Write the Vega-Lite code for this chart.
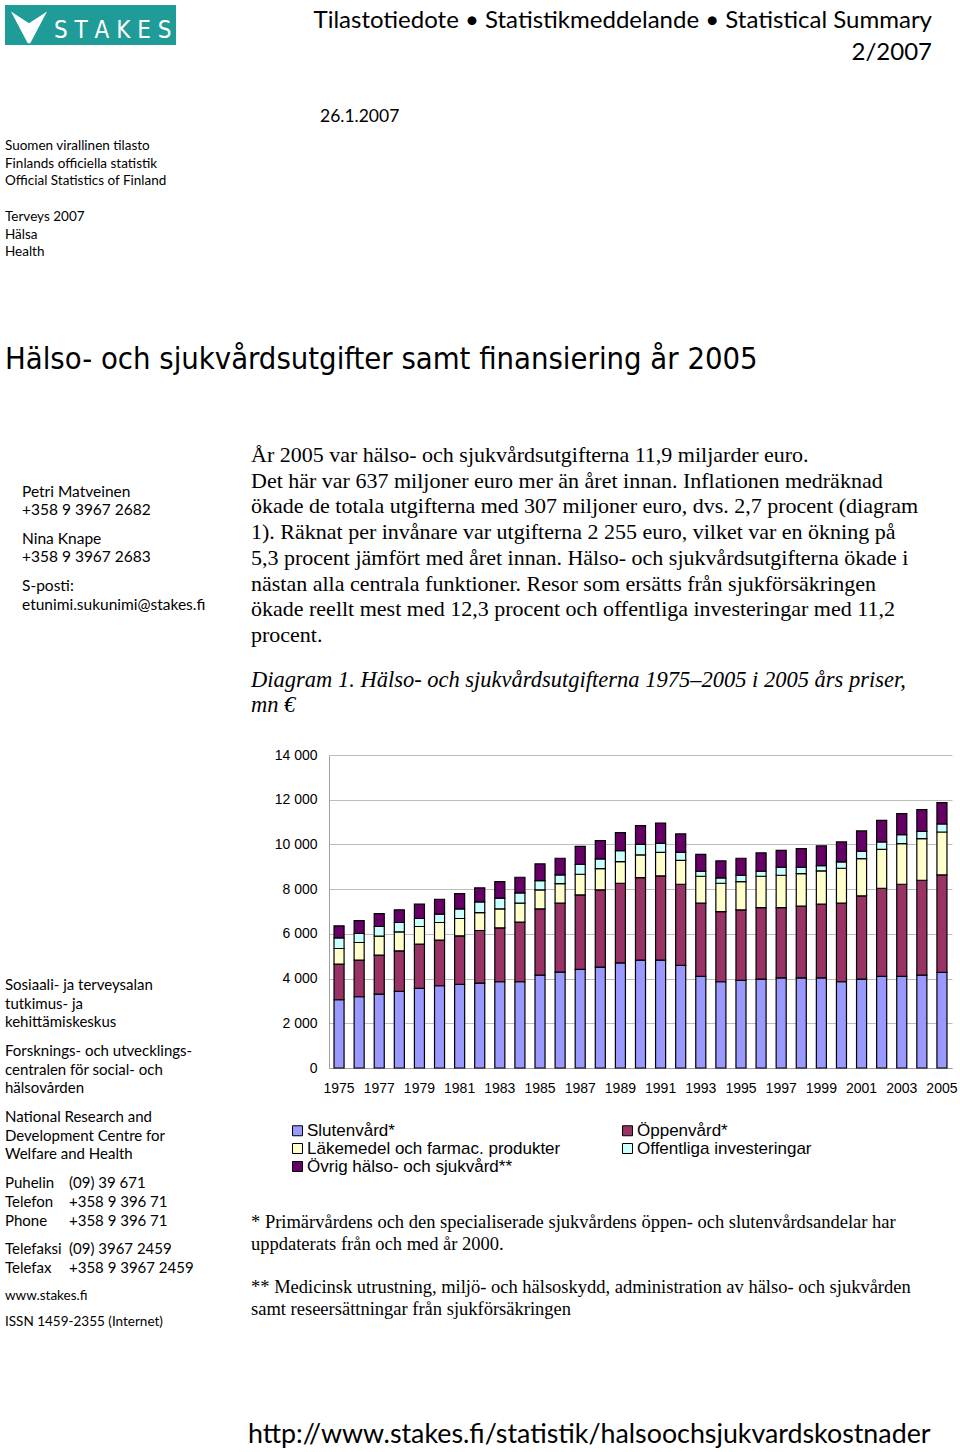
{
  "$schema": "https://vega.github.io/schema/vega-lite/v6.json",
  "width": 623,
  "height": 313,
  "autosize": {"type": "none"},
  "padding": {"left": 329, "top": 755, "right": 8, "bottom": 384},
  "background": "white",
  "config": {
    "view": {"stroke": null},
    "font": "Liberation Sans",
    "locale": {"number": {"decimal": ",", "thousands": " ", "grouping": [3], "currency": ["", " €"]}}
  },
  "datasets": {
    "utgifter": [
      {"År": 1975, "slut": 3052, "oppen": 1594, "lake": 699, "inv": 477, "ovrig": 536},
      {"År": 1976, "slut": 3186, "oppen": 1638, "lake": 790, "inv": 401, "ovrig": 581},
      {"År": 1977, "slut": 3306, "oppen": 1742, "lake": 848, "inv": 432, "ovrig": 581},
      {"År": 1978, "slut": 3425, "oppen": 1816, "lake": 849, "inv": 417, "ovrig": 566},
      {"År": 1979, "slut": 3559, "oppen": 1980, "lake": 789, "inv": 358, "ovrig": 640},
      {"År": 1980, "slut": 3678, "oppen": 2040, "lake": 789, "inv": 372, "ovrig": 670},
      {"År": 1981, "slut": 3737, "oppen": 2174, "lake": 775, "inv": 431, "ovrig": 685},
      {"År": 1982, "slut": 3797, "oppen": 2353, "lake": 804, "inv": 476, "ovrig": 625},
      {"År": 1983, "slut": 3857, "oppen": 2412, "lake": 848, "inv": 477, "ovrig": 744},
      {"År": 1984, "slut": 3857, "oppen": 2665, "lake": 849, "inv": 461, "ovrig": 700},
      {"År": 1985, "slut": 4154, "oppen": 2963, "lake": 849, "inv": 417, "ovrig": 745},
      {"År": 1986, "slut": 4288, "oppen": 3083, "lake": 878, "inv": 387, "ovrig": 745},
      {"År": 1987, "slut": 4407, "oppen": 3336, "lake": 923, "inv": 447, "ovrig": 804},
      {"År": 1988, "slut": 4512, "oppen": 3454, "lake": 953, "inv": 432, "ovrig": 819},
      {"År": 1989, "slut": 4705, "oppen": 3559, "lake": 968, "inv": 491, "ovrig": 804},
      {"År": 1990, "slut": 4824, "oppen": 3693, "lake": 1013, "inv": 476, "ovrig": 834},
      {"År": 1991, "slut": 4824, "oppen": 3768, "lake": 1057, "inv": 402, "ovrig": 908},
      {"År": 1992, "slut": 4586, "oppen": 3633, "lake": 1072, "inv": 358, "ovrig": 819},
      {"År": 1993, "slut": 4095, "oppen": 3276, "lake": 1206, "inv": 223, "ovrig": 759},
      {"År": 1994, "slut": 3857, "oppen": 3141, "lake": 1266, "inv": 238, "ovrig": 760},
      {"År": 1995, "slut": 3916, "oppen": 3157, "lake": 1265, "inv": 283, "ovrig": 760},
      {"År": 1996, "slut": 3976, "oppen": 3201, "lake": 1400, "inv": 223, "ovrig": 819},
      {"År": 1997, "slut": 4035, "oppen": 3142, "lake": 1444, "inv": 358, "ovrig": 759},
      {"År": 1998, "slut": 4035, "oppen": 3202, "lake": 1459, "inv": 283, "ovrig": 834},
      {"År": 1999, "slut": 4035, "oppen": 3291, "lake": 1489, "inv": 238, "ovrig": 879},
      {"År": 2000, "slut": 3857, "oppen": 3514, "lake": 1563, "inv": 283, "ovrig": 893},
      {"År": 2001, "slut": 3976, "oppen": 3722, "lake": 1668, "inv": 328, "ovrig": 908},
      {"År": 2002, "slut": 4095, "oppen": 3946, "lake": 1742, "inv": 327, "ovrig": 968},
      {"År": 2003, "slut": 4095, "oppen": 4124, "lake": 1817, "inv": 402, "ovrig": 938},
      {"År": 2004, "slut": 4154, "oppen": 4244, "lake": 1861, "inv": 328, "ovrig": 968},
      {"År": 2005, "slut": 4273, "oppen": 4363, "lake": 1921, "inv": 357, "ovrig": 953}
    ],
    "kategorier": [
      {"nyckel": "slut", "Kategori": "Slutenvård*", "ordning": 1},
      {"nyckel": "oppen", "Kategori": "Öppenvård*", "ordning": 2},
      {"nyckel": "lake", "Kategori": "Läkemedel och farmac. produkter", "ordning": 3},
      {"nyckel": "inv", "Kategori": "Offentliga investeringar", "ordning": 4},
      {"nyckel": "ovrig", "Kategori": "Övrig hälso- och sjukvård**", "ordning": 5}
    ],
    "tom": [{}]
  },
  "layer": [
    {
      "data": {"name": "utgifter"},
      "transform": [
        {"fold": ["slut", "oppen", "lake", "inv", "ovrig"], "as": ["nyckel", "mn"]},
        {"lookup": "nyckel", "from": {"data": {"name": "kategorier"}, "key": "nyckel", "fields": ["Kategori", "ordning"]}}
      ],
      "mark": {"type": "bar", "stroke": "black", "strokeWidth": 1.2},
      "encoding": {
        "x": {
          "field": "År", "type": "ordinal",
          "scale": {"paddingInner": 0.5, "paddingOuter": 0.25},
          "axis": {
            "title": null, "labelAngle": 0, "ticks": false, "tickSize": 0, "labelPadding": 13,
            "labelFontSize": 14, "labelFont": "Liberation Sans", "labelColor": "black",
            "labelOverlap": false, "domainColor": "#A0A0A0", "domainWidth": 1,
            "values": [1975, 1977, 1979, 1981, 1983, 1985, 1987, 1989, 1991, 1993, 1995, 1997, 1999, 2001, 2003, 2005]
          }
        },
        "y": {
          "field": "mn", "type": "quantitative", "stack": "zero",
          "scale": {"domain": [0, 14000], "nice": false},
          "axis": {
            "title": null, "values": [0, 2000, 4000, 6000, 8000, 10000, 12000, 14000],
            "format": ",d",
            "ticks": false, "tickSize": 0, "labelPadding": 12, "labelFontSize": 14,
            "labelFont": "Liberation Sans", "labelColor": "black",
            "domainColor": "#A0A0A0", "gridColor": "#BDBDBD", "gridWidth": 1
          }
        },
        "color": {
          "field": "Kategori", "type": "nominal",
          "scale": {
            "domain": ["Slutenvård*", "Öppenvård*", "Läkemedel och farmac. produkter", "Offentliga investeringar", "Övrig hälso- och sjukvård**"],
            "range": ["#9999FF", "#993366", "#FFFFCC", "#CCFFFF", "#660066"]
          },
          "legend": {
            "orient": "none", "legendX": -40, "legendY": 367, "direction": "horizontal", "columns": 2, "title": null,
            "symbolType": "square", "symbolSize": 100, "symbolStrokeColor": "black", "symbolStrokeWidth": 1,
            "symbolOpacity": 1, "labelFontSize": 17, "labelFont": "Liberation Sans", "labelColor": "black",
            "labelOffset": 1, "columnPadding": 58, "rowPadding": 0, "labelLimit": 400, "padding": 0
          }
        },
        "order": {"field": "ordning", "type": "quantitative", "sort": "ascending"}
      }
    },
    {
      "data": {"name": "tom"},
      "mark": {"type": "rect", "color": "#1F9C97"},
      "encoding": {"x": {"value": -324}, "x2": {"value": -153}, "y": {"value": -750}, "y2": {"value": -710}}
    },
    {
      "data": {"name": "tom"},
      "mark": {"type": "point", "shape": "M-1,-0.8L0,-0.15L1,-0.8L0.07,0.95L-0.07,0.95Z", "filled": true, "color": "white", "opacity": 1, "size": 1300},
      "encoding": {"x": {"value": -300}, "y": {"value": -729}}
    },
    {
      "data": {"name": "tom"},
      "mark": {"type": "text", "text": "S T A K E S", "align": "left", "baseline": "alphabetic", "font": "DejaVu Sans Condensed, Liberation Sans", "fontSize": 24, "color": "white"},
      "encoding": {"x": {"value": -275}, "y": {"value": -717}}
    },
    {
      "data": {"name": "tom"},
      "mark": {"type": "text", "text": ["Tilastotiedote  •  Statistikmeddelande  •  Statistical Summary", "2/2007"], "align": "right", "baseline": "alphabetic", "font": "Lato", "fontSize": 24, "lineHeight": 32, "color": "black"},
      "encoding": {"x": {"value": 603}, "y": {"value": -727}}
    },
    {
      "data": {"name": "tom"},
      "mark": {"type": "text", "text": "26.1.2007", "align": "left", "baseline": "alphabetic", "font": "Lato", "fontSize": 17.5, "color": "black"},
      "encoding": {"x": {"value": -9}, "y": {"value": -633}}
    },
    {
      "data": {"name": "tom"},
      "mark": {"type": "text", "text": ["Suomen virallinen tilasto", "Finlands officiella statistik", "Official Statistics of Finland"], "align": "left", "baseline": "alphabetic", "font": "Lato", "fontSize": 13.5, "lineHeight": 17.7, "color": "black"},
      "encoding": {"x": {"value": -324}, "y": {"value": -605}}
    },
    {
      "data": {"name": "tom"},
      "mark": {"type": "text", "text": ["Terveys 2007", "Hälsa", "Health"], "align": "left", "baseline": "alphabetic", "font": "Lato", "fontSize": 13.5, "lineHeight": 17.7, "color": "black"},
      "encoding": {"x": {"value": -324}, "y": {"value": -534}}
    },
    {
      "data": {"name": "tom"},
      "mark": {"type": "text", "text": "Hälso- och sjukvårdsutgifter samt finansiering år 2005", "align": "left", "baseline": "alphabetic", "font": "DejaVu Sans Condensed, Liberation Sans", "fontSize": 30.7, "color": "black"},
      "encoding": {"x": {"value": -324}, "y": {"value": -386}}
    },
    {
      "data": {"name": "tom"},
      "mark": {"type": "text", "text": ["Petri Matveinen", "+358 9 3967 2682"], "align": "left", "baseline": "alphabetic", "font": "Lato", "fontSize": 15.5, "lineHeight": 18, "color": "black"},
      "encoding": {"x": {"value": -307}, "y": {"value": -258}}
    },
    {
      "data": {"name": "tom"},
      "mark": {"type": "text", "text": ["Nina Knape", "+358 9 3967 2683"], "align": "left", "baseline": "alphabetic", "font": "Lato", "fontSize": 15.5, "lineHeight": 18, "color": "black"},
      "encoding": {"x": {"value": -307}, "y": {"value": -211}}
    },
    {
      "data": {"name": "tom"},
      "mark": {"type": "text", "text": ["S-posti:", "etunimi.sukunimi@stakes.fi"], "align": "left", "baseline": "alphabetic", "font": "Lato", "fontSize": 15.5, "lineHeight": 19, "color": "black"},
      "encoding": {"x": {"value": -307}, "y": {"value": -164}}
    },
    {
      "data": {"name": "tom"},
      "mark": {"type": "text", "text": ["År 2005 var hälso- och sjukvårdsutgifterna 11,9 miljarder euro.", "Det här var 637 miljoner euro mer än året innan. Inflationen medräknad", "ökade de totala utgifterna med 307 miljoner euro, dvs. 2,7 procent (diagram", "1). Räknat per invånare var utgifterna 2 255 euro, vilket var en ökning på", "5,3 procent jämfört med året innan. Hälso- och sjukvårdsutgifterna ökade i", "nästan alla centrala funktioner. Resor som ersätts från sjukförsäkringen", "ökade reellt mest med 12,3 procent och offentliga investeringar med 11,2", "procent."], "align": "left", "baseline": "alphabetic", "font": "Liberation Serif", "fontSize": 22, "lineHeight": 25.7, "color": "black"},
      "encoding": {"x": {"value": -78}, "y": {"value": -293}}
    },
    {
      "data": {"name": "tom"},
      "mark": {"type": "text", "text": ["Diagram 1. Hälso- och sjukvårdsutgifterna 1975–2005 i 2005 års priser,", "mn €"], "align": "left", "baseline": "alphabetic", "font": "Liberation Serif", "fontStyle": "italic", "fontSize": 22.5, "lineHeight": 25, "color": "black"},
      "encoding": {"x": {"value": -78}, "y": {"value": -68}}
    },
    {
      "data": {"name": "tom"},
      "mark": {"type": "text", "text": ["Sosiaali- ja terveysalan", "tutkimus- ja", "kehittämiskeskus"], "align": "left", "baseline": "alphabetic", "font": "Lato", "fontSize": 15, "lineHeight": 18.6, "color": "black"},
      "encoding": {"x": {"value": -324}, "y": {"value": 235}}
    },
    {
      "data": {"name": "tom"},
      "mark": {"type": "text", "text": ["Forsknings- och utvecklings-", "centralen för social- och", "hälsovården"], "align": "left", "baseline": "alphabetic", "font": "Lato", "fontSize": 15, "lineHeight": 18.6, "color": "black"},
      "encoding": {"x": {"value": -324}, "y": {"value": 301}}
    },
    {
      "data": {"name": "tom"},
      "mark": {"type": "text", "text": ["National Research and", "Development Centre for", "Welfare and Health"], "align": "left", "baseline": "alphabetic", "font": "Lato", "fontSize": 15, "lineHeight": 18.6, "color": "black"},
      "encoding": {"x": {"value": -324}, "y": {"value": 367}}
    },
    {
      "data": {"name": "tom"},
      "mark": {"type": "text", "text": ["Puhelin", "Telefon", "Phone"], "align": "left", "baseline": "alphabetic", "font": "Lato", "fontSize": 15, "lineHeight": 19, "color": "black"},
      "encoding": {"x": {"value": -324}, "y": {"value": 433}}
    },
    {
      "data": {"name": "tom"},
      "mark": {"type": "text", "text": ["(09) 39 671", "+358 9 396 71", "+358 9 396 71"], "align": "left", "baseline": "alphabetic", "font": "Lato", "fontSize": 15, "lineHeight": 19, "color": "black"},
      "encoding": {"x": {"value": -260}, "y": {"value": 433}}
    },
    {
      "data": {"name": "tom"},
      "mark": {"type": "text", "text": ["Telefaksi", "Telefax"], "align": "left", "baseline": "alphabetic", "font": "Lato", "fontSize": 15, "lineHeight": 19, "color": "black"},
      "encoding": {"x": {"value": -324}, "y": {"value": 499}}
    },
    {
      "data": {"name": "tom"},
      "mark": {"type": "text", "text": ["(09) 3967 2459", "+358 9 3967 2459"], "align": "left", "baseline": "alphabetic", "font": "Lato", "fontSize": 15, "lineHeight": 19, "color": "black"},
      "encoding": {"x": {"value": -260}, "y": {"value": 499}}
    },
    {
      "data": {"name": "tom"},
      "mark": {"type": "text", "text": "www.stakes.fi", "align": "left", "baseline": "alphabetic", "font": "Lato", "fontSize": 13.5, "color": "black"},
      "encoding": {"x": {"value": -324}, "y": {"value": 545}}
    },
    {
      "data": {"name": "tom"},
      "mark": {"type": "text", "text": "ISSN 1459-2355 (Internet)", "align": "left", "baseline": "alphabetic", "font": "Lato", "fontSize": 13.5, "color": "black"},
      "encoding": {"x": {"value": -324}, "y": {"value": 571}}
    },
    {
      "data": {"name": "tom"},
      "mark": {"type": "text", "text": ["* Primärvårdens och den specialiserade sjukvårdens öppen- och slutenvårdsandelar har", "uppdaterats från och med år 2000."], "align": "left", "baseline": "alphabetic", "font": "Liberation Serif", "fontSize": 18.5, "lineHeight": 22, "color": "black"},
      "encoding": {"x": {"value": -78}, "y": {"value": 473}}
    },
    {
      "data": {"name": "tom"},
      "mark": {"type": "text", "text": ["** Medicinsk utrustning, miljö- och hälsoskydd, administration av hälso- och sjukvården", "samt reseersättningar från sjukförsäkringen"], "align": "left", "baseline": "alphabetic", "font": "Liberation Serif", "fontSize": 18.5, "lineHeight": 22, "color": "black"},
      "encoding": {"x": {"value": -78}, "y": {"value": 538}}
    },
    {
      "data": {"name": "tom"},
      "mark": {"type": "text", "text": "http://www.stakes.fi/statistik/halsoochsjukvardskostnader", "align": "left", "baseline": "alphabetic", "font": "Lato", "fontSize": 26.8, "color": "black"},
      "encoding": {"x": {"value": -81}, "y": {"value": 688}}
    }
  ]
}
